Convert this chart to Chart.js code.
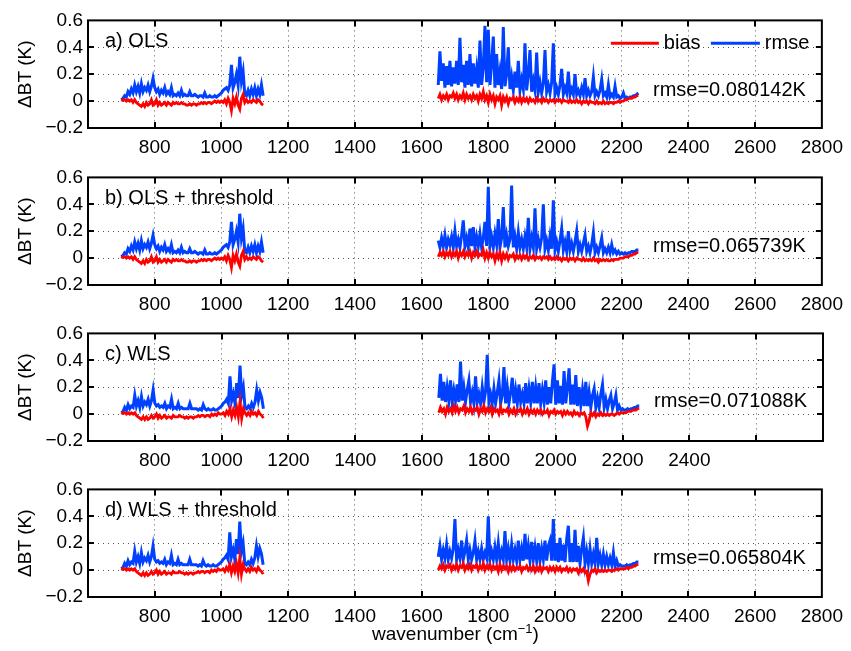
<!DOCTYPE html>
<html>
<head>
<meta charset="utf-8">
<script src="https://cdn.jsdelivr.net/npm/chart.js@4.4.1/dist/chart.umd.min.js"></script>
<style>
    body { margin: 0; background: #fff; }
    #wrap { position: relative; width: 851px; height: 651px; font-family: "Liberation Sans", Arial, sans-serif; }
    .panel { position: absolute; left: 0; width: 851px; height: 156px; }
    #xtitle { position: absolute; left: 88px; width: 735px; top: 621px; text-align: center; font-size: 19px; color: #000; }
    #xtitle sup { font-size: 13px; }
</style>
</head>
<body>
<div id="wrap">
    <div class="panel" style="top:4px"><canvas id="chartA" width="851" height="156"></canvas></div>
    <div class="panel" style="top:161px"><canvas id="chartB" width="851" height="156"></canvas></div>
    <div class="panel" style="top:317px"><canvas id="chartC" width="851" height="156"></canvas></div>
    <div class="panel" style="top:473px"><canvas id="chartD" width="851" height="156"></canvas></div>
    <div id="xtitle">wavenumber (cm<sup>−1</sup>)</div>
</div>
<script>
// tick labels
var xTickLabels = [800, 1000, 1200, 1400, 1600, 1800, 2000, 2200, 2400, 2600, 2800];
var xTickLabelsC = [800, 1000, 1200, 1400, 1600, 1800, 2000, 2200, 2400];
var yTickLabels = ["\u22120.2", "0", "0.2", "0.4", "0.6"];

// wavenumber grid of the two bands (cm-1)
function range(start, stop, step) {
    var out = [];
    for (var v = start; v <= stop; v += step) out.push(v);
    return out;
}
var lwX = range(700, 1125, 5);
var swX = range(1650, 2250, 5);

// long wave band, OLS (panels a, b)
var lwRmseOLS = [
    0.01, 0.02, 0.04, 0.03, 0.07, 0.05, 0.09, 0.06, 0.12, 0.07,
    0.11, 0.06, 0.13, 0.07, 0.10, 0.08, 0.12, 0.07, 0.11, 0.17,
    0.10, 0.07, 0.09, 0.05, 0.08, 0.06, 0.10, 0.05, 0.07, 0.05,
    0.10, 0.04, 0.05, 0.04, 0.06, 0.04, 0.08, 0.04, 0.05, 0.04,
    0.04, 0.07, 0.04, 0.04, 0.05, 0.04, 0.03, 0.04, 0.04, 0.03,
    0.06, 0.03, 0.03, 0.04, 0.03, 0.03, 0.04, 0.03, 0.04, 0.05,
    0.06, 0.08, 0.09, 0.10, 0.08, 0.12, 0.27, 0.10, 0.14, 0.20,
    0.12, 0.33, 0.15, 0.22, 0.05, 0.04, 0.08, 0.04, 0.09, 0.05,
    0.10, 0.04, 0.09, 0.05, 0.12, 0.04
];
var lwBiasOLS = [
    0.00, 0.01, 0.01, 0.00, 0.01, 0.00, 0.01, -0.01, 0.01, -0.01,
    -0.02, -0.03, -0.04, -0.02, -0.04, -0.01, -0.03, -0.02, 0.01, -0.03,
    -0.02, 0.01, -0.03, -0.01, -0.03, -0.02, -0.01, -0.03, -0.01, -0.02,
    -0.03, -0.01, -0.02, -0.01, -0.02, -0.02, -0.01, -0.02, -0.02, -0.03,
    -0.03, -0.02, -0.03, -0.02, -0.02, -0.03, -0.02, -0.02, -0.01, -0.02,
    -0.01, -0.02, -0.01, -0.01, -0.02, -0.01, 0.00, -0.01, 0.00, -0.01,
    0.00, -0.01, 0.01, -0.02, 0.02, -0.01, -0.07, 0.02, -0.02, 0.03,
    -0.03, -0.06, 0.02, 0.05, -0.01, 0.01, -0.01, 0.00, -0.01, 0.01,
    0.00, -0.01, 0.01, 0.00, -0.02, -0.03
];

// long wave band, WLS (panels c, d)
var lwRmseWLS = [
    0.01, 0.02, 0.05, 0.03, 0.07, 0.04, 0.06, 0.05, 0.14, 0.06,
    0.10, 0.05, 0.13, 0.06, 0.09, 0.07, 0.11, 0.06, 0.10, 0.18,
    0.08, 0.06, 0.07, 0.05, 0.06, 0.05, 0.08, 0.04, 0.06, 0.05,
    0.11, 0.04, 0.05, 0.04, 0.08, 0.04, 0.05, 0.04, 0.04, 0.04,
    0.04, 0.08, 0.04, 0.04, 0.04, 0.04, 0.03, 0.04, 0.03, 0.07,
    0.04, 0.03, 0.04, 0.03, 0.03, 0.04, 0.03, 0.03, 0.04, 0.05,
    0.06, 0.08, 0.09, 0.11, 0.08, 0.28, 0.10, 0.15, 0.08, 0.23,
    0.12, 0.36, 0.14, 0.20, 0.05, 0.04, 0.06, 0.04, 0.08, 0.05,
    0.09, 0.18, 0.10, 0.16, 0.12, 0.04
];
var lwBiasWLS = [
    0.00, 0.01, 0.01, 0.00, 0.01, 0.00, 0.01, 0.00, 0.01, -0.01,
    -0.02, -0.03, -0.04, -0.02, -0.04, -0.02, -0.04, -0.03, -0.01, -0.03,
    -0.02, 0.00, -0.03, -0.01, -0.03, -0.02, -0.01, -0.03, -0.02, -0.02,
    -0.03, -0.01, -0.02, -0.02, -0.02, -0.01, -0.02, -0.02, -0.03, -0.02,
    -0.03, -0.02, -0.02, -0.03, -0.02, -0.02, -0.01, -0.02, -0.01, -0.01,
    -0.02, -0.01, -0.01, -0.02, 0.00, -0.01, 0.00, -0.01, 0.01, 0.00,
    0.00, 0.01, -0.01, 0.02, 0.00, 0.04, -0.02, 0.03, -0.01, 0.05,
    -0.02, 0.09, -0.03, 0.04, 0.01, -0.01, 0.01, -0.01, 0.02, 0.00,
    0.01, -0.01, 0.02, 0.00, -0.01, -0.03
];

// short wave band
var swRmseA = [
    0.12, 0.37, 0.15, 0.28, 0.10, 0.26, 0.12, 0.30, 0.11, 0.25,
    0.13, 0.30, 0.12, 0.47, 0.14, 0.27, 0.10, 0.30, 0.12, 0.35,
    0.11, 0.28, 0.13, 0.24, 0.10, 0.45, 0.12, 0.25, 0.56, 0.14,
    0.53, 0.12, 0.28, 0.48, 0.10, 0.35, 0.12, 0.22, 0.09, 0.55,
    0.11, 0.20, 0.40, 0.09, 0.18, 0.08, 0.22, 0.10, 0.30, 0.08,
    0.16, 0.09, 0.43, 0.08, 0.20, 0.38, 0.07, 0.15, 0.08, 0.36,
    0.07, 0.14, 0.06, 0.13, 0.38, 0.07, 0.12, 0.06, 0.14, 0.43,
    0.05, 0.10, 0.05, 0.12, 0.24, 0.05, 0.10, 0.06, 0.22, 0.05,
    0.09, 0.05, 0.20, 0.05, 0.08, 0.04, 0.10, 0.05, 0.17, 0.04,
    0.08, 0.04, 0.07, 0.18, 0.04, 0.07, 0.04, 0.08, 0.16, 0.04,
    0.06, 0.03, 0.12, 0.03, 0.05, 0.03, 0.11, 0.03, 0.04, 0.02,
    0.03, 0.06, 0.02, 0.03, 0.02, 0.03, 0.03, 0.04, 0.04, 0.05,
    0.06
];
var swBiasA = [
    0.02, 0.05, 0.01, 0.04, 0.02, 0.05, 0.01, 0.04, 0.03, 0.06,
    0.02, 0.05, 0.01, 0.04, 0.02, 0.06, 0.01, 0.05, 0.02, 0.04,
    0.01, 0.05, 0.02, 0.04, 0.00, 0.05, 0.02, 0.07, 0.01, 0.04,
    -0.01, 0.05, 0.01, 0.04, -0.02, 0.03, 0.01, 0.04, -0.03, 0.03,
    0.00, 0.03, -0.02, 0.02, 0.01, 0.03, -0.01, 0.02, 0.00, 0.03,
    -0.01, 0.02, 0.00, 0.02, -0.01, 0.02, 0.00, 0.01, -0.01, 0.02,
    0.00, 0.01, -0.01, 0.02, 0.00, 0.01, -0.01, 0.01, 0.00, 0.01,
    -0.01, 0.01, 0.00, 0.01, -0.01, 0.01, 0.00, 0.00, -0.01, 0.01,
    -0.01, 0.00, -0.01, 0.01, -0.01, 0.00, -0.02, 0.00, -0.01, 0.00,
    -0.02, 0.00, -0.01, -0.01, -0.02, 0.00, -0.02, -0.01, -0.02, 0.00,
    -0.02, -0.01, -0.02, -0.01, -0.01, -0.02, -0.01, -0.01, 0.00, -0.01,
    0.00, 0.00, 0.01, 0.01, 0.02, 0.02, 0.02, 0.03, 0.03, 0.04,
    0.04
];
var swRmseB = [
    0.13, 0.08, 0.15, 0.09, 0.17, 0.08, 0.14, 0.10, 0.16, 0.08,
    0.20, 0.09, 0.14, 0.08, 0.17, 0.28, 0.09, 0.15, 0.08, 0.22,
    0.09, 0.23, 0.08, 0.16, 0.09, 0.18, 0.08, 0.15, 0.27, 0.09,
    0.53, 0.09, 0.16, 0.08, 0.18, 0.10, 0.29, 0.08, 0.15, 0.38,
    0.08, 0.17, 0.09, 0.14, 0.54, 0.08, 0.16, 0.07, 0.19, 0.08,
    0.14, 0.07, 0.16, 0.08, 0.30, 0.07, 0.15, 0.08, 0.37, 0.07,
    0.14, 0.08, 0.15, 0.40, 0.07, 0.13, 0.06, 0.16, 0.07, 0.43,
    0.06, 0.12, 0.05, 0.13, 0.22, 0.06, 0.12, 0.05, 0.20, 0.06,
    0.11, 0.05, 0.12, 0.20, 0.05, 0.10, 0.05, 0.11, 0.17, 0.05,
    0.09, 0.04, 0.10, 0.19, 0.04, 0.08, 0.04, 0.09, 0.15, 0.04,
    0.07, 0.04, 0.08, 0.04, 0.10, 0.04, 0.06, 0.03, 0.05, 0.03,
    0.04, 0.03, 0.04, 0.03, 0.04, 0.04, 0.05, 0.05, 0.05, 0.06,
    0.06
];
var swBiasB = [
    0.01, 0.04, 0.02, 0.05, 0.01, 0.04, 0.02, 0.05, 0.01, 0.04,
    0.02, 0.05, 0.00, 0.04, 0.02, 0.05, 0.01, 0.04, 0.02, 0.05,
    0.00, 0.04, 0.02, 0.05, 0.01, 0.03, 0.02, 0.06, 0.00, 0.04,
    0.00, 0.04, 0.01, 0.03, -0.02, 0.03, 0.00, 0.04, -0.02, 0.03,
    0.00, 0.03, -0.01, 0.02, 0.01, 0.03, -0.01, 0.02, 0.00, 0.02,
    -0.01, 0.02, 0.00, 0.02, -0.01, 0.01, 0.00, 0.02, -0.01, 0.01,
    0.00, 0.01, -0.01, 0.01, 0.00, 0.01, -0.01, 0.01, -0.01, 0.00,
    -0.01, 0.01, -0.01, 0.00, -0.02, 0.00, -0.01, 0.00, -0.02, 0.00,
    -0.01, 0.00, -0.02, 0.00, -0.01, -0.01, -0.02, 0.00, -0.02, -0.01,
    -0.02, -0.01, -0.02, 0.00, -0.02, -0.01, -0.03, -0.01, -0.02, -0.01,
    -0.02, -0.01, -0.02, -0.02, -0.01, -0.02, -0.01, -0.01, -0.01, 0.00,
    0.00, 0.00, 0.01, 0.01, 0.01, 0.02, 0.02, 0.03, 0.03, 0.04,
    0.04
];
var swRmseC = [
    0.12, 0.30, 0.10, 0.24, 0.09, 0.20, 0.10, 0.25, 0.09, 0.18,
    0.10, 0.22, 0.09, 0.39, 0.10, 0.20, 0.09, 0.18, 0.25, 0.09,
    0.16, 0.08, 0.28, 0.09, 0.15, 0.08, 0.20, 0.09, 0.17, 0.44,
    0.09, 0.15, 0.08, 0.19, 0.08, 0.16, 0.25, 0.08, 0.14, 0.35,
    0.08, 0.20, 0.08, 0.16, 0.27, 0.08, 0.18, 0.08, 0.22, 0.09,
    0.15, 0.08, 0.23, 0.08, 0.19, 0.09, 0.24, 0.08, 0.20, 0.08,
    0.23, 0.08, 0.18, 0.09, 0.25, 0.07, 0.20, 0.08, 0.24, 0.37,
    0.07, 0.25, 0.08, 0.21, 0.07, 0.32, 0.08, 0.20, 0.34, 0.07,
    0.22, 0.07, 0.29, 0.06, 0.20, 0.07, 0.18, 0.06, 0.24, 0.06,
    0.16, 0.05, 0.14, 0.19, 0.05, 0.12, 0.05, 0.15, 0.22, 0.05,
    0.11, 0.04, 0.10, 0.14, 0.04, 0.08, 0.14, 0.03, 0.06, 0.03,
    0.04, 0.03, 0.03, 0.04, 0.03, 0.04, 0.04, 0.05, 0.05, 0.06,
    0.06
];
var swBiasC = [
    0.01, 0.05, 0.02, 0.04, 0.00, 0.05, 0.02, 0.04, 0.01, 0.06,
    0.02, 0.05, 0.01, 0.04, 0.03, 0.06, 0.01, 0.04, 0.02, 0.05,
    0.01, 0.04, 0.03, 0.05, 0.00, 0.04, 0.02, 0.06, 0.01, 0.04,
    0.02, 0.05, 0.00, 0.04, 0.02, 0.03, 0.00, 0.05, 0.01, 0.03,
    0.02, 0.04, 0.00, 0.03, 0.01, 0.04, 0.00, 0.03, 0.02, 0.04,
    0.00, 0.03, 0.01, 0.04, 0.00, 0.03, 0.01, 0.03, 0.00, 0.03,
    0.01, 0.03, 0.00, 0.02, 0.01, 0.03, -0.01, 0.02, 0.01, 0.03,
    0.00, 0.02, 0.01, 0.02, -0.01, 0.02, 0.00, 0.02, 0.00, 0.01,
    -0.01, 0.02, 0.00, 0.01, -0.01, 0.01, 0.00, 0.01, -0.02, -0.09,
    -0.05, 0.01, -0.01, 0.01, -0.02, 0.00, -0.01, 0.01, -0.01, 0.00,
    -0.01, 0.00, -0.01, 0.00, 0.00, -0.01, 0.00, 0.01, 0.00, 0.01,
    0.01, 0.01, 0.01, 0.02, 0.02, 0.02, 0.03, 0.03, 0.03, 0.04,
    0.04
];
var swRmseD = [
    0.10, 0.18, 0.08, 0.15, 0.09, 0.19, 0.08, 0.14, 0.09, 0.16,
    0.38, 0.08, 0.15, 0.09, 0.22, 0.08, 0.14, 0.22, 0.08, 0.15,
    0.08, 0.13, 0.22, 0.08, 0.14, 0.08, 0.16, 0.08, 0.13, 0.09,
    0.40, 0.08, 0.14, 0.08, 0.17, 0.08, 0.20, 0.08, 0.14, 0.08,
    0.29, 0.08, 0.16, 0.07, 0.19, 0.08, 0.15, 0.07, 0.22, 0.08,
    0.16, 0.07, 0.27, 0.08, 0.18, 0.07, 0.21, 0.08, 0.17, 0.07,
    0.20, 0.07, 0.16, 0.08, 0.22, 0.07, 0.18, 0.22, 0.07, 0.38,
    0.07, 0.20, 0.06, 0.24, 0.07, 0.19, 0.06, 0.23, 0.33, 0.06,
    0.20, 0.06, 0.30, 0.06, 0.18, 0.05, 0.16, 0.24, 0.05, 0.14,
    0.05, 0.16, 0.05, 0.12, 0.05, 0.24, 0.05, 0.11, 0.04, 0.12,
    0.04, 0.10, 0.04, 0.09, 0.04, 0.13, 0.03, 0.07, 0.03, 0.04,
    0.03, 0.03, 0.03, 0.04, 0.03, 0.04, 0.04, 0.05, 0.05, 0.06,
    0.06
];
var swBiasD = [
    0.00, 0.03, 0.01, 0.04, 0.00, 0.03, 0.02, 0.04, 0.00, 0.03,
    0.01, 0.04, 0.00, 0.03, 0.02, 0.05, 0.00, 0.03, 0.01, 0.04,
    0.00, 0.03, 0.02, 0.04, 0.00, 0.03, 0.01, 0.05, 0.00, 0.03,
    0.01, 0.04, 0.00, 0.03, 0.01, 0.03, -0.01, 0.04, 0.00, 0.03,
    0.01, 0.03, -0.01, 0.03, 0.00, 0.03, 0.00, 0.02, 0.01, 0.03,
    -0.01, 0.02, 0.01, 0.03, 0.00, 0.02, 0.00, 0.03, -0.01, 0.02,
    0.00, 0.03, -0.01, 0.02, 0.01, 0.02, -0.01, 0.02, 0.00, 0.02,
    -0.01, 0.02, 0.00, 0.02, -0.01, 0.01, 0.00, 0.02, -0.01, 0.01,
    -0.01, 0.01, 0.00, 0.01, -0.02, 0.01, -0.01, 0.01, -0.02, -0.01,
    -0.08, -0.03, 0.00, -0.01, 0.01, -0.02, 0.00, -0.01, 0.00, -0.01,
    0.00, -0.01, 0.00, 0.00, -0.01, 0.00, 0.00, 0.01, 0.00, 0.01,
    0.01, 0.01, 0.01, 0.02, 0.01, 0.02, 0.02, 0.03, 0.03, 0.04,
    0.04
];

var FONT = '"Liberation Sans", Arial, Helvetica, sans-serif';
var RED = "#ff0000";
var BLUE = "#0040ff";

function toPoints(lwY, swY) {
    var pts = [];
    for (var i = 0; i < lwX.length; i++) pts.push({ x: lwX[i], y: lwY[i] });
    pts.push({ x: 1390, y: null }); // gap between the bands
    for (var j = 0; j < swX.length; j++) pts.push({ x: swX[j], y: swY[j] });
    return pts;
}

// box, inward ticks, panel label, rmse text and legend
var panelPlugin = {
    id: "panel",
    afterDatasetsDraw: function (chart, args, opts) {
        var ctx = chart.ctx;
        var a = chart.chartArea;
        var xs = chart.scales.x;
        var ys = chart.scales.y;
        ctx.save();
        ctx.strokeStyle = "#000";
        ctx.lineWidth = 2;
        ctx.beginPath();
        xs.ticks.forEach(function (t) {
            if (t.value <= xs.min || t.value >= xs.max) return;
            var px = Math.round(xs.getPixelForValue(t.value));
            ctx.moveTo(px, a.bottom);
            ctx.lineTo(px, a.bottom - 6);
            ctx.moveTo(px, a.top);
            ctx.lineTo(px, a.top + 6);
        });
        ys.ticks.forEach(function (t) {
            if (t.value <= ys.min + 1e-9 || t.value >= ys.max - 1e-9) return;
            var py = Math.round(ys.getPixelForValue(t.value));
            ctx.moveTo(a.left, py);
            ctx.lineTo(a.left + 6, py);
            ctx.moveTo(a.right, py);
            ctx.lineTo(a.right - 6, py);
        });
        ctx.stroke();
        ctx.strokeRect(a.left, a.top, a.right - a.left, a.bottom - a.top);

        ctx.fillStyle = "#000";
        ctx.font = "20px " + FONT;
        ctx.textBaseline = "middle";
        ctx.textAlign = "left";
        ctx.fillText(opts.label, a.left + 17, ys.getPixelForValue(0.44));
        ctx.textAlign = "right";
        ctx.fillText(opts.rmse, a.right - 16, ys.getPixelForValue(opts.rmseAt));

        if (opts.legend) {
            var ly = ys.getPixelForValue(0.43);
            ctx.lineWidth = 3;
            ctx.strokeStyle = RED;
            ctx.beginPath();
            ctx.moveTo(a.right - 211, ly);
            ctx.lineTo(a.right - 163, ly);
            ctx.stroke();
            ctx.strokeStyle = BLUE;
            ctx.beginPath();
            ctx.moveTo(a.right - 111, ly);
            ctx.lineTo(a.right - 62, ly);
            ctx.stroke();
            ctx.textAlign = "left";
            ctx.fillText("bias", a.right - 158, ly);
            ctx.fillText("rmse", a.right - 57, ly);
        }
        ctx.restore();
    },
};

function makePanel(id, lwRmse, lwBias, swRmse, swBias, xLabels, panel) {
    new Chart(document.getElementById(id), {
        type: "line",
        data: {
            datasets: [
                {
                    label: "bias",
                    data: toPoints(lwBias, swBias),
                    borderColor: RED,
                    borderWidth: 2.8,
                    pointRadius: 0,
                    spanGaps: false,
                },
                {
                    label: "rmse",
                    data: toPoints(lwRmse, swRmse),
                    borderColor: BLUE,
                    borderWidth: 3,
                    pointRadius: 0,
                    spanGaps: false,
                },
            ],
        },
        options: {
            responsive: false,
            animation: false,
            events: [],
            layout: { padding: { top: 12, right: 28, left: 0, bottom: 0 } },
            plugins: {
                legend: { display: false },
                tooltip: { enabled: false },
                panel: panel,
            },
            scales: {
                x: {
                    type: "linear",
                    min: 600,
                    max: 2800,
                    afterFit: function (scale) {
                        scale.height = 32;
                    },
                    ticks: {
                        stepSize: 200,
                        autoSkip: false,
                        maxRotation: 0,
                        padding: 8,
                        color: "#000",
                        font: { family: FONT, size: 19 },
                        callback: function (value) {
                            return xLabels.indexOf(value) >= 0 ? String(value) : "";
                        },
                    },
                    grid: { color: "#555", lineWidth: 1, drawTicks: false },
                    border: { display: false, dash: [1, 4] },
                },
                y: {
                    min: -0.2,
                    max: 0.6,
                    afterFit: function (scale) {
                        scale.width = 88;
                    },
                    ticks: {
                        stepSize: 0.2,
                        padding: 5,
                        color: "#000",
                        font: { family: FONT, size: 19 },
                        callback: function (value, index) {
                            return yTickLabels[index];
                        },
                    },
                    title: {
                        display: true,
                        text: "\u0394BT (K)",
                        color: "#000",
                        font: { family: FONT, size: 19 },
                        padding: { top: 14, bottom: 0 },
                    },
                    grid: { color: "#555", lineWidth: 1, drawTicks: false },
                    border: { display: false, dash: [1, 4] },
                },
            },
        },
        plugins: [panelPlugin],
    });
}

makePanel("chartA", lwRmseOLS, lwBiasOLS, swRmseA, swBiasA, xTickLabels,
    { label: "a) OLS", rmse: "rmse=0.080142K", rmseAt: 0.08, legend: true });
makePanel("chartB", lwRmseOLS, lwBiasOLS, swRmseB, swBiasB, xTickLabels,
    { label: "b) OLS + threshold", rmse: "rmse=0.065739K", rmseAt: 0.085, legend: false });
makePanel("chartC", lwRmseWLS, lwBiasWLS, swRmseC, swBiasC, xTickLabelsC,
    { label: "c) WLS", rmse: "rmse=0.071088K", rmseAt: 0.095, legend: false });
makePanel("chartD", lwRmseWLS, lwBiasWLS, swRmseD, swBiasD, xTickLabels,
    { label: "d) WLS + threshold", rmse: "rmse=0.065804K", rmseAt: 0.085, legend: false });
</script>
</body>
</html>
